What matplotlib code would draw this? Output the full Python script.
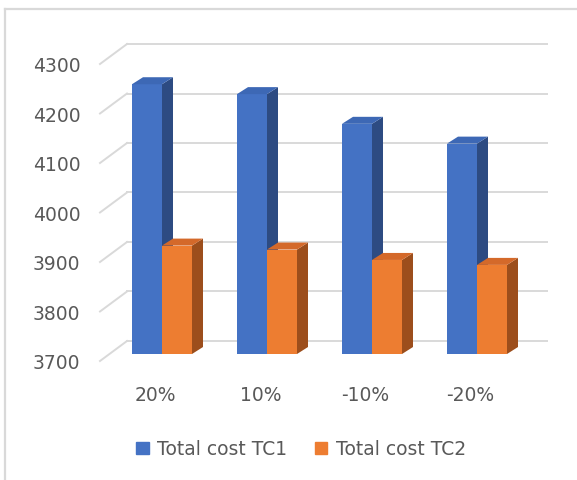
import matplotlib
matplotlib.use("Agg")
import matplotlib.pyplot as plt
from matplotlib.patches import Polygon, Patch
from matplotlib.lines import Line2D
from matplotlib.transforms import ScaledTranslation

categories = ["20%", "10%", "-10%", "-20%"]
tc1 = [4245, 4225, 4165, 4125]
tc2 = [3919, 3911, 3890, 3880]
series_names = ["Total cost TC1", "Total cost TC2"]
yticks = [3700, 3800, 3900, 4000, 4100, 4200, 4300]

front_col = ["#4472C4", "#ED7D31"]
side_col = ["#2D4B82", "#9C4E1C"]
top_col = ["#3D68B5", "#D4692A"]
grid_col = "#D9D9D9"
text_col = "#595959"

plt.rcParams["font.family"] = "DejaVu Sans"
fs = 13.5

fig = plt.figure(figsize=(5.77, 4.81), dpi=100)
# axes = front plane of the 3d box
ax = fig.add_axes([100 / 577, (481 - 362) / 481, 420 / 577, 297 / 481])
ax.set_xlim(-0.5, 3.5)
ax.set_ylim(3700, 4300)
for s in ax.spines.values():
    s.set_visible(False)

# pixels per data unit
px_x = ax.transData.transform((1, 0))[0] - ax.transData.transform((0, 0))[0]
px_y = ax.transData.transform((0, 1))[1] - ax.transData.transform((0, 0))[1]


def dx(p):
    return p / px_x


def dy(p):
    return p / px_y


# back wall shifted 27px right, 20px up
back = ax.transData + ScaledTranslation(0.27, 0.20, fig.dpi_scale_trans)
for v in yticks:
    ax.plot([-0.5, 3.5], [v, v], color=grid_col, lw=1.4, transform=back,
            clip_on=False, zorder=1)
    ax.plot([-0.5, -0.5 + dx(27)], [v, v + dy(20)], color=grid_col, lw=1.4,
            clip_on=False, zorder=1)

# bars sit a bit behind the front plane
bar_plane = ax.transData + ScaledTranslation(0.095, 0.07, fig.dpi_scale_trans)
w = dx(30)
ddx, ddy = dx(11), dy(7)
base = 3700
for i in range(len(categories)):
    for k, vals in enumerate([tc1, tc2]):
        v = vals[i]
        x0 = i - w + k * w
        x1 = x0 + w
        b = ax.bar(x0, v - base, width=w, bottom=base, align="edge",
                   color=front_col[k], zorder=3 + k, clip_on=False)
        b[0].set_transform(bar_plane)
        side = Polygon([(x1, base), (x1, v), (x1 + ddx, v + ddy), (x1 + ddx, base + ddy)],
                       closed=True, color=side_col[k], transform=bar_plane,
                       zorder=3 + k, clip_on=False, lw=0)
        top = Polygon([(x0, v), (x1, v), (x1 + ddx, v + ddy), (x0 + ddx, v + ddy)],
                      closed=True, color=top_col[k], transform=bar_plane,
                      zorder=3 + k, clip_on=False, lw=0)
        ax.add_patch(side)
        ax.add_patch(top)

ax.set_yticks(yticks)
ax.set_yticklabels([str(t) for t in yticks])
ax.set_xticks(range(len(categories)))
ax.set_xticklabels(categories)
ax.tick_params(axis="y", length=0, pad=14, labelsize=fs, labelcolor=text_col)
ax.tick_params(axis="x", length=0, pad=17, labelsize=fs, labelcolor=text_col)
for lab in ax.get_xticklabels():
    lab.set_transform(lab.get_transform() + ScaledTranslation(0.03, 0, fig.dpi_scale_trans))

handles = [Patch(color=front_col[0]), Patch(color=front_col[1])]
fig.legend(handles, series_names, loc="center", bbox_to_anchor=(0.522, 0.0645),
           ncol=2, frameon=False, fontsize=fs, labelcolor=text_col,
           handlelength=0.65, handleheight=0.65, handletextpad=0.45,
           columnspacing=1.5)

# chart area border (top and left edges)
fig.add_artist(Line2D([5 / 577, 1], [1 - 10 / 481, 1 - 10 / 481],
                      transform=fig.transFigure, color=grid_col, lw=1.6))
fig.add_artist(Line2D([5 / 577, 5 / 577], [0, 1 - 10 / 481],
                      transform=fig.transFigure, color=grid_col, lw=1.6))

fig.savefig("out.png", dpi=100)
